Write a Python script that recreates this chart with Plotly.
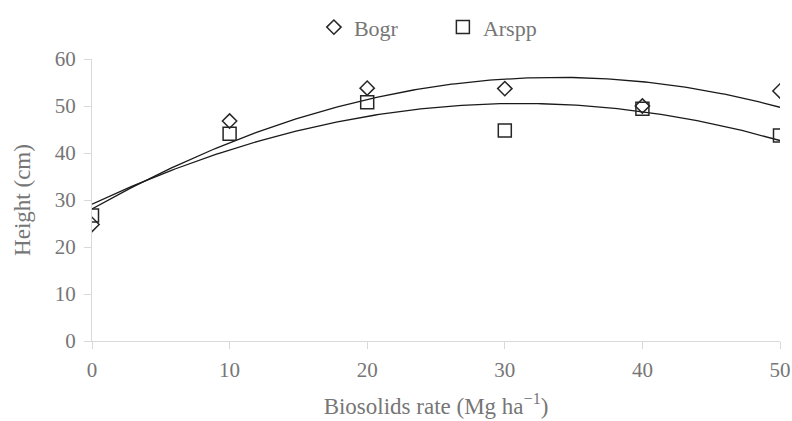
import numpy as np
import plotly.graph_objects as go

rates = [0, 10, 20, 30, 40, 50]
bogr = [24.8, 46.8, 53.8, 53.7, 50.0, 53.2]
arspp = [26.7, 44.1, 50.8, 44.8, 49.4, 43.7]
x_ticks = [0, 10, 20, 30, 40, 50]
y_ticks = [0, 10, 20, 30, 40, 50, 60]

FONT = "Liberation Serif"
GRAY = "#767676"
AX = "#d9d9d9"
INK = "#262626"

fig = go.Figure()

xs = np.linspace(0, 50, 200)
for ys in (bogr, arspp):
    c = np.polyfit(rates, ys, 2)
    fig.add_trace(go.Scatter(x=xs, y=np.polyval(c, xs), mode="lines",
                             line=dict(color="#1a1a1a", width=1.3), showlegend=False,
                             hoverinfo="skip"))

fig.add_trace(go.Scatter(x=rates, y=bogr, mode="markers", name="Bogr",
                         marker=dict(symbol="diamond-open", size=11, color=INK,
                                     line=dict(width=1.5, color=INK))))
fig.add_trace(go.Scatter(x=rates, y=arspp, mode="markers", name="Arspp",
                         marker=dict(symbol="square-open", size=13, color=INK,
                                     line=dict(width=1.5, color=INK))))

fig.update_layout(
    width=792, height=421,
    margin=dict(l=92, r=12, t=59, b=80, autoexpand=False),
    paper_bgcolor="white", plot_bgcolor="white",
    font=dict(family=FONT, color=GRAY, size=22),
    legend=dict(orientation="h", x=0.51, xanchor="center", y=0.985, yanchor="top",
                yref="container", font=dict(size=22, color=GRAY),
                itemwidth=30, entrywidth=84, entrywidthmode="pixels"),
    xaxis=dict(range=[0, 50], tickvals=x_ticks, showgrid=False, zeroline=False,
               showline=True, linecolor=AX, linewidth=1.3, automargin=False,
               ticks="outside", ticklen=7, tickcolor=AX, tickwidth=1.3,
               ticklabelstandoff=3,
               title=dict(text="Biosolids rate (Mg ha<sup>\u22121</sup>)", standoff=16,
                          font=dict(size=23, color=GRAY)),
               tickfont=dict(size=21, color=GRAY)),
    yaxis=dict(range=[0, 60], tickvals=y_ticks, showgrid=False, zeroline=False,
               showline=True, linecolor=AX, linewidth=1.3, automargin=False,
               ticks="outside", ticklen=7, tickcolor=AX, tickwidth=1.3,
               ticklabelstandoff=4,
               title=dict(text="Height (cm)", standoff=17,
                          font=dict(size=23, color=GRAY)),
               tickfont=dict(size=21, color=GRAY)),
)

fig.write_html("out.html")
